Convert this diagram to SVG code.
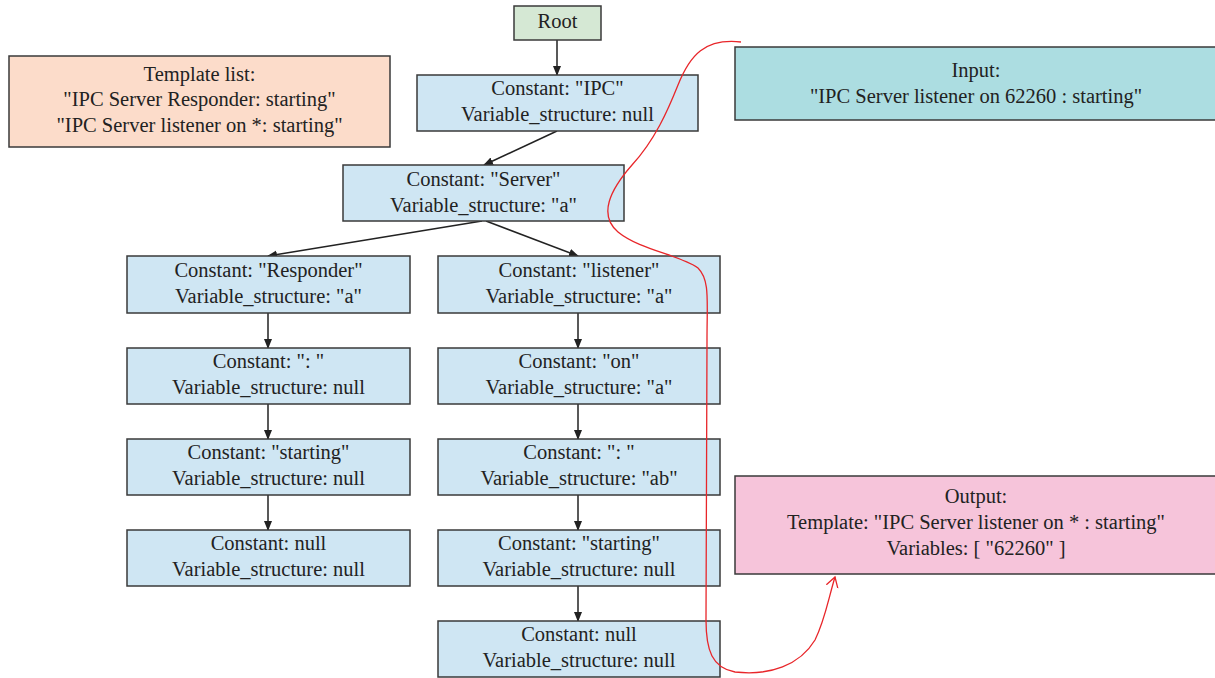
<svg xmlns="http://www.w3.org/2000/svg" width="1215" height="678" viewBox="0 0 1215 678">
<style>
.n rect{stroke:#3a3a3a;stroke-width:1.5}
.b{fill:#cfe6f3}
text{font-family:"Liberation Serif","Times New Roman",serif;font-size:20.5px;fill:#222;text-anchor:middle}
.c line{stroke:#222;stroke-width:1.5;marker-end:url(#ah)}
</style>
<defs>
<marker id="ah" markerWidth="10" markerHeight="10" refX="9" refY="5" orient="auto" markerUnits="userSpaceOnUse">
<path d="M0,1 L10,5 L0,9 Z" fill="#222"/>
</marker>
<marker id="rh" markerWidth="14" markerHeight="14" refX="10" refY="7" orient="auto" markerUnits="userSpaceOnUse">
<path d="M0,1 L10,7 L0,13" fill="none" stroke="#e8262a" stroke-width="1.3"/>
</marker>
</defs>
<g class="c" id="connectors">
<line x1="557" y1="40" x2="557" y2="75"/>
<line x1="557" y1="131" x2="484" y2="165"/>
<line x1="482" y1="221" x2="268" y2="256"/>
<line x1="486" y1="221" x2="578" y2="256"/>
<line x1="268" y1="313" x2="268" y2="348"/>
<line x1="268" y1="404" x2="268" y2="439"/>
<line x1="268" y1="495" x2="268" y2="530"/>
<line x1="578" y1="313" x2="578" y2="348"/>
<line x1="578" y1="404" x2="578" y2="439"/>
<line x1="578" y1="495" x2="578" y2="530"/>
<line x1="578" y1="586" x2="578" y2="621"/>
</g>
<g class="n" id="root"><rect x="514" y="6" width="87" height="34" fill="#d5e8d4"/><text x="557.5" y="28">Root</text></g>
<g class="n" id="n-ipc"><rect class="b" x="417" y="75" width="281" height="56"/><text x="557.5" y="95">Constant: "IPC"</text><text x="557.5" y="121">Variable_structure: null</text></g>
<g class="n" id="n-server"><rect class="b" x="343" y="165" width="281" height="56"/><text x="483.5" y="186">Constant: "Server"</text><text x="483.5" y="212">Variable_structure: "a"</text></g>
<g class="n" id="n-responder"><rect class="b" x="127" y="256" width="283" height="57"/><text x="268.5" y="277">Constant: "Responder"</text><text x="268.5" y="303">Variable_structure: "a"</text></g>
<g class="n" id="n-colon1"><rect class="b" x="127" y="348" width="283" height="56"/><text x="268.5" y="368">Constant: ": "</text><text x="268.5" y="394">Variable_structure: null</text></g>
<g class="n" id="n-starting1"><rect class="b" x="127" y="439" width="283" height="56"/><text x="268.5" y="459">Constant: "starting"</text><text x="268.5" y="485">Variable_structure: null</text></g>
<g class="n" id="n-null1"><rect class="b" x="127" y="530" width="283" height="56"/><text x="268.5" y="550">Constant: null</text><text x="268.5" y="576">Variable_structure: null</text></g>
<g class="n" id="n-listener"><rect class="b" x="438" y="256" width="282" height="57"/><text x="579" y="277">Constant: "listener"</text><text x="579" y="303">Variable_structure: "a"</text></g>
<g class="n" id="n-on"><rect class="b" x="438" y="348" width="282" height="56"/><text x="579" y="368">Constant: "on"</text><text x="579" y="394">Variable_structure: "a"</text></g>
<g class="n" id="n-colon2"><rect class="b" x="438" y="439" width="282" height="56"/><text x="579" y="459">Constant: ": "</text><text x="579" y="485">Variable_structure: "ab"</text></g>
<g class="n" id="n-starting2"><rect class="b" x="438" y="530" width="282" height="56"/><text x="579" y="550">Constant: "starting"</text><text x="579" y="576">Variable_structure: null</text></g>
<g class="n" id="n-null2"><rect class="b" x="438" y="621" width="282" height="56"/><text x="579" y="641">Constant: null</text><text x="579" y="667">Variable_structure: null</text></g>
<g class="n" id="template-list"><rect x="9" y="56" width="381" height="91" fill="#fcdcca"/><text x="199.5" y="81">Template list:</text><text x="199.5" y="106">"IPC Server Responder: starting"</text><text x="199.5" y="132">"IPC Server listener on *: starting"</text></g>
<g class="n" id="input"><rect x="735" y="47" width="482" height="73" fill="#acdde1"/><text x="976" y="77">Input:</text><text x="976" y="103">"IPC Server listener on 62260 : starting"</text></g>
<g class="n" id="output"><rect x="735" y="476" width="482" height="98" fill="#f6c4da"/><text x="976" y="503">Output:</text><text x="976" y="529">Template: "IPC Server listener on * : starting"</text><text x="976" y="555">Variables: [ "62260" ]</text></g>
<g id="trace">
<path d="M741,42 C705,38 690,55 678,85 C668,110 655,140 632,165 C610,190 598,215 618,232 C640,250 680,255 698,268 C710,280 707,300 707,340 L706,620 C706,650 712,668 735,672 C770,676 800,665 815,640 C825,620 828,600 835,577" fill="none" stroke="#e8262a" stroke-width="1.3" marker-end="url(#rh)"/>
</g>
</svg>
